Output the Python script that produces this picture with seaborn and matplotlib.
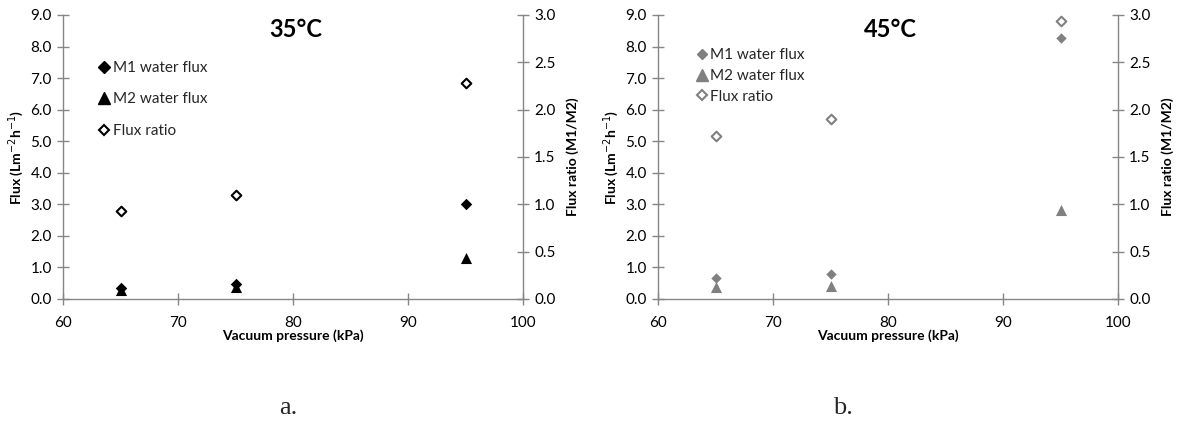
import numpy as np
import pandas as pd
import seaborn as sns
import matplotlib.pyplot as plt
from matplotlib.lines import Line2D

# Data
pressure = [65, 75, 95]

m1_flux_35 = [0.35, 0.47, 3.0]
m2_flux_35 = [0.30, 0.38, 1.30]
ratio_35 = [0.93, 1.10, 2.28]

m1_flux_45 = [0.66, 0.79, 8.28]
m2_flux_45 = [0.37, 0.42, 2.83]
ratio_45 = [1.72, 1.90, 2.94]

titles = ["35°C", "45°C"]
panel_labels = ["a.", "b."]
colors = ["black", "#808080"]
legend_labels = ["M1 water flux", "M2 water flux", "Flux ratio"]

sns.set_theme(style="white")
plt.rcParams['font.family'] = ['Lato', 'DejaVu Sans']

W, H = 1181, 421
fig = plt.figure(figsize=(W / 100, H / 100), dpi=100)
axes_px = [(63, 15, 523, 299), (658, 15, 1118, 299)]
label_pos = [(288, 408), (843, 408)]
legend_anchor = [(0.06, 0.86), (0.065, 0.905)]
legend_spacing = [1.15, 0.45]
diamond_size = [34, 28]

datasets = [(m1_flux_35, m2_flux_35, ratio_35), (m1_flux_45, m2_flux_45, ratio_45)]

for i, (m1, m2, ratio) in enumerate(datasets):
    x0, y0, x1, y1 = axes_px[i]
    ax = fig.add_axes([x0 / W, 1 - y1 / H, (x1 - x0) / W, (y1 - y0) / H])
    ax2 = ax.twinx()
    c = colors[i]

    df = pd.DataFrame({"pressure": pressure, "m1": m1, "m2": m2, "ratio": ratio})
    sns.scatterplot(data=df, x="pressure", y="m1", ax=ax, marker="D", s=diamond_size[i],
                    color=c, edgecolor=c, linewidth=0, zorder=3)
    sns.scatterplot(data=df, x="pressure", y="m2", ax=ax, marker="^", s=64,
                    color=c, edgecolor=c, linewidth=0, zorder=3)
    sns.scatterplot(data=df, x="pressure", y="ratio", ax=ax2, marker="D", s=24,
                    facecolor="white", edgecolor=c, linewidth=1.5, zorder=3)

    ax.set_xlim(60, 100)
    ax.set_ylim(0, 9)
    ax2.set_ylim(0, 3)
    ax.set_xticks(range(60, 101, 10))
    yt = np.arange(0, 9.1, 1.0)
    ax.set_yticks(yt)
    ax.set_yticklabels([f"{v:.1f}" for v in yt])
    rt = np.arange(0, 3.01, 0.5)
    ax2.set_yticks(rt)
    ax2.set_yticklabels([f"{v:.1f}" for v in rt])

    for a in (ax, ax2):
        for s in a.spines.values():
            s.set_color("#868686")
            s.set_linewidth(1.0)
        a.spines["top"].set_visible(False)
        a.tick_params(axis="both", direction="inout", length=8, width=1.0,
                      color="#868686", labelsize=11, labelcolor="black", pad=4)
    ax.spines["right"].set_visible(False)
    ax2.spines["left"].set_visible(False)
    ax2.spines["bottom"].set_visible(False)
    ax.tick_params(axis="x", pad=8)
    ax.tick_params(left=True, bottom=True)
    ax2.tick_params(right=True)

    ax.set_xlabel("Vacuum pressure (kPa)", fontsize=10, fontweight="bold",
                  color="black", labelpad=0)
    ax.set_ylabel("Flux (Lm$^{-2}$h$^{-1}$)", fontsize=10, fontweight="bold",
                  color="black", labelpad=3)
    ax2.set_ylabel("Flux ratio (M1/M2)", fontsize=10, fontweight="bold",
                   color="black", labelpad=8)
    ax.text(0.505, 0.95, titles[i], transform=ax.transAxes, fontsize=17,
            fontweight="bold", ha="center", va="center", color="black")

    handles = [
        Line2D([], [], marker="D", linestyle="", color=c, markersize=6.2 if i == 0 else 5.6),
        Line2D([], [], marker="^", linestyle="", color=c, markersize=8),
        Line2D([], [], marker="D", linestyle="", markerfacecolor="white",
               markeredgecolor=c, markeredgewidth=1.5, markersize=5),
    ]
    ax.legend(handles, legend_labels, loc="upper left", bbox_to_anchor=legend_anchor[i],
              frameon=False, fontsize=11, handletextpad=0.05, handlelength=1.0,
              labelspacing=legend_spacing[i], borderaxespad=0)

    fig.text(label_pos[i][0] / W, 1 - label_pos[i][1] / H, panel_labels[i],
             fontsize=19, family="Liberation Serif", ha="center", va="center")

fig.savefig("out.png", dpi=100)
